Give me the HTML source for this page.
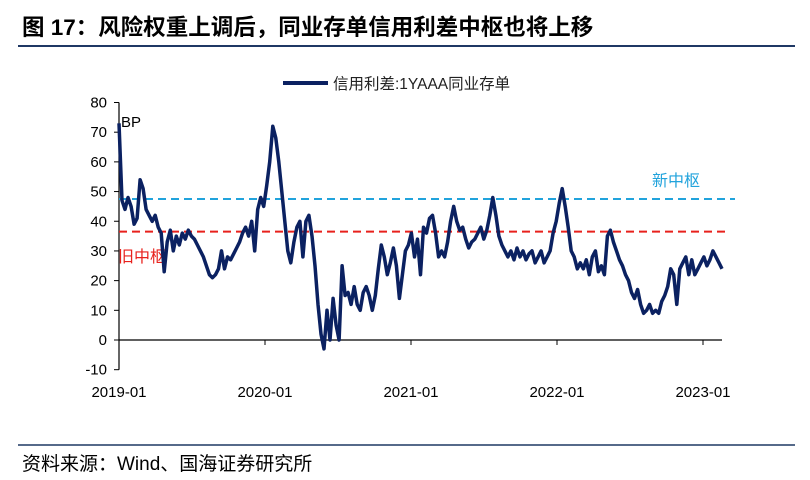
<!DOCTYPE html>
<html><head><meta charset="utf-8"><style>
body{margin:0;background:#fff;}
svg{display:block;font-family:"Liberation Sans","Noto Sans CJK SC",sans-serif;}
</style></head><body>
<svg id="chart" width="810" height="480">
<text x="22" y="35" font-size="22.5" font-weight="bold" fill="#000">图 17：风险权重上调后，同业存单信用利差中枢也将上移</text>
<line x1="18" y1="46" x2="795" y2="46" stroke="#1f3864" stroke-width="2"/>
<line x1="18" y1="445" x2="795" y2="445" stroke="#1f3864" stroke-width="1.5"/>
<text x="22" y="470" font-size="19" fill="#000">资料来源：Wind、国海证券研究所</text>
<g>
<line x1="283" y1="83" x2="328" y2="83" stroke="#0b2161" stroke-width="4"/>
<text x="333" y="89" font-size="15.5" fill="#222">信用利差:1YAAA同业存单</text>
</g>
<g id="axes"></g>
<g id="plot"></g>
</svg>
<script>
const yTicks=[80,70,60,50,40,30,20,10,0,-10];
const xTickLabels=["2019-01","2020-01","2021-01","2022-01","2023-01"];
const xTickYears=[2019,2020,2021,2022,2023];
const seriesStart=2019.0, seriesEnd=2023.13;
const spreadValues=[73,47,44,48,45,39,41,54,51,44,42,40,42,38,36,23,33,37,30,35,32,36,34,37,35,34,32,30,28,25,22,21,22,24,30,24,28,27,29,31,33,36,38,35,40,30,44,48,45,52,60,72,68,60,50,40,30,26,33,38,40,28,40,42,35,25,12,2,-3,10,0,14,5,0,25,15,16,12,18,12,10,16,18,15,10,15,24,32,28,22,26,31,25,14,22,30,32,36,28,34,22,38,36,41,42,36,28,30,28,33,40,45,40,37,38,34,31,33,34,36,38,34,37,42,48,42,35,32,30,28,30,27,31,28,30,27,29,30,26,28,30,26,28,30,36,40,46,51,45,38,30,28,24,26,24,27,22,28,30,23,25,22,35,37,33,30,27,25,22,20,16,14,17,12,9,10,12,9,10,9,13,15,18,24,22,12,24,26,28,22,27,22,24,26,28,25,27,30,28,26,24];
const newCenter=47.5, oldCenter=36.5;
const NS="http://www.w3.org/2000/svg";
const X0=119,X1=703,Y0=340,Y80=102.5;
function xScale(yr){return X0+(yr-2019)*(X1-X0)/4;}
function yScale(v){return Y0-v*(Y0-Y80)/80;}
function mk(tag,attrs,parent){const e=document.createElementNS(NS,tag);for(const k in attrs)e.setAttribute(k,attrs[k]);parent.appendChild(e);return e;}
const axes=document.getElementById('axes'),plot=document.getElementById('plot');
let el=mk('line',{x1:X0,y1:yScale(80),x2:X0,y2:yScale(-10),stroke:'#000','stroke-width':1.2},axes);


el=mk('line',{x1:X0,y1:Y0,x2:722,y2:Y0,stroke:'#000','stroke-width':1.2},axes);


yTicks.forEach(v=>{
 const y=yScale(v);
 let t=mk('line',{x1:X0-5,y1:y,x2:X0,y2:y,stroke:'#000'},axes);
 
 
 let l=mk('text',{x:X0-12,y:y+5,'text-anchor':'end','font-size':15,fill:'#000'},axes);
 l.textContent=v;
 
 
});
xTickYears.forEach((yr,i)=>{
 const x=xScale(yr);
 let t=mk('line',{x1:x,y1:Y0,x2:x,y2:Y0+5,stroke:'#000'},axes);
 
 
 let l=mk('text',{x:x,y:397,'text-anchor':'middle','font-size':15,fill:'#000'},axes);
 l.textContent=xTickLabels[i];
 
 
});
let bp=mk('text',{x:121,y:127,'font-size':15,fill:'#000'},axes);
bp.textContent='BP';


let nl=mk('line',{x1:X0,y1:yScale(newCenter),x2:735,y2:yScale(newCenter),stroke:'#21a3dc','stroke-width':2,'stroke-dasharray':'8,5'},plot);


let ol=mk('line',{x1:X0,y1:yScale(oldCenter),x2:730,y2:yScale(oldCenter),stroke:'#e8211c','stroke-width':2,'stroke-dasharray':'8,5'},plot);


let nt=mk('text',{x:652,y:186,'font-size':16,fill:'#21a3dc'},plot);
nt.textContent='新中枢';


let ot=mk('text',{x:118,y:262,'font-size':16,fill:'#e8211c'},plot);
ot.textContent='旧中枢';


const n=spreadValues.length;
const pts=spreadValues.map((v,i)=>{const yr=seriesStart+(seriesEnd-seriesStart)*i/(n-1);return xScale(yr).toFixed(1)+','+yScale(v).toFixed(1);}).join(' ');
let pl=mk('polyline',{points:pts,fill:'none',stroke:'#0b2161','stroke-width':3.5,'stroke-linejoin':'round'},plot);


</script>
</body></html>
